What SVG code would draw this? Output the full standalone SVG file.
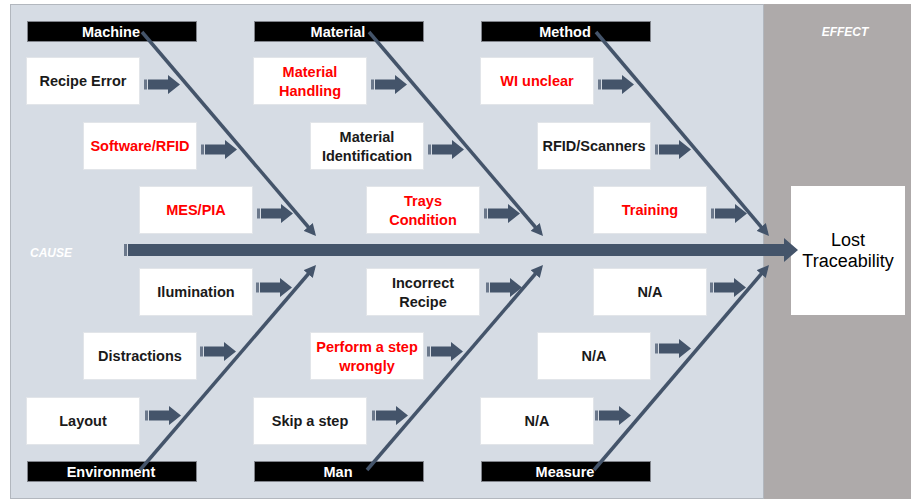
<svg xmlns="http://www.w3.org/2000/svg" xmlns:xlink="http://www.w3.org/1999/xlink" width="911" height="499" viewBox="0 0 911 499">
  <style>
    .cause-bg { fill: #d6dce4; stroke: #b2b7be; stroke-width: 1; }
    .effect-bg { fill: #aeaaaa; }
    .box { fill: #ffffff; stroke: #e2e5e9; stroke-width: 1; }
    .cat { fill: #000000; stroke: #80838a; stroke-width: 1; }
    .cat-text { font-family: "Liberation Sans", Arial, sans-serif; font-weight: bold; font-size: 14.5px; fill: #ffffff; text-anchor: middle; }
    .t { font-family: "Liberation Sans", Arial, sans-serif; font-weight: bold; font-size: 14.5px; text-anchor: middle; fill: #1a1a1a; }
    .red { fill: #ff0000; }
    .zone { font-family: "Liberation Sans", Arial, sans-serif; font-weight: bold; font-style: italic; font-size: 12px; fill: #ffffff; }
    .effect-text { font-family: "Liberation Sans", Arial, sans-serif; font-size: 18px; text-anchor: middle; fill: #000000; }
    .bone { stroke: #44546a; stroke-width: 3.5; fill: none; marker-end: url(#head); }
    .slate { fill: #44546a; }
    .stripe { fill: #6b788b; }
  </style>
  <defs>
    <marker id="head" viewBox="0 0 12 12" markerUnits="userSpaceOnUse" markerWidth="12" markerHeight="12" refX="8" refY="6" orient="auto">
      <path d="M0,0 L12,6 L0,12 Z" fill="#44546a"/>
    </marker>
    <!-- small striped block arrow, origin at left end / vertical centre -->
    <g id="blk">
      <rect class="stripe" x="0" y="-5" width="3" height="10"/>
      <path class="slate" d="M4,-5 H24 V-9.5 L36,0 L24,9.5 V5 H4 Z"/>
    </g>
  </defs>

  <!-- background panels -->
  <rect class="cause-bg" x="10.5" y="4.5" width="753" height="494"/>
  <rect class="effect-bg" x="764" y="4" width="147" height="495"/>
  <text class="zone" x="30" y="257">CAUSE</text>
  <text class="zone" x="845" y="36" text-anchor="middle" font-size="11.5">EFFECT</text>

  <!-- category headers -->
  <g id="cat-machine"><rect class="cat" x="27.5" y="21.5" width="169" height="20"/><text class="cat-text" x="111" y="36.5">Machine</text></g>
  <g id="cat-material"><rect class="cat" x="254.5" y="21.5" width="169" height="20"/><text class="cat-text" x="338" y="36.5">Material</text></g>
  <g id="cat-method"><rect class="cat" x="481.5" y="21.5" width="169" height="20"/><text class="cat-text" x="565" y="36.5">Method</text></g>
  <g id="cat-environment"><rect class="cat" x="27.5" y="461.5" width="169" height="20"/><text class="cat-text" x="111" y="476.5">Environment</text></g>
  <g id="cat-man"><rect class="cat" x="254.5" y="461.5" width="169" height="20"/><text class="cat-text" x="338" y="476.5">Man</text></g>
  <g id="cat-measure"><rect class="cat" x="481.5" y="461.5" width="169" height="20"/><text class="cat-text" x="565" y="476.5">Measure</text></g>

  <!-- cause boxes -->
  <g id="recipe-error"><rect class="box" x="26.5" y="57.5" width="113" height="47"/><text class="t" x="83" y="86">Recipe Error</text></g>
  <g id="software-rfid"><rect class="box" x="83.5" y="122.5" width="113" height="47"/><text class="t red" x="140" y="151">Software/RFID</text></g>
  <g id="mes-pia"><rect class="box" x="139.5" y="186.5" width="113" height="47"/><text class="t red" x="196" y="215">MES/PIA</text></g>

  <g id="material-handling"><rect class="box" x="253.5" y="57.5" width="113" height="47"/><text class="t red" x="310" y="77">Material</text><text class="t red" x="310" y="96">Handling</text></g>
  <g id="material-identification"><rect class="box" x="310.5" y="122.5" width="113" height="47"/><text class="t" x="367" y="142">Material</text><text class="t" x="367" y="161">Identification</text></g>
  <g id="trays-condition"><rect class="box" x="366.5" y="186.5" width="113" height="47"/><text class="t red" x="423" y="206">Trays</text><text class="t red" x="423" y="225">Condition</text></g>

  <g id="wi-unclear"><rect class="box" x="480.5" y="57.5" width="113" height="47"/><text class="t red" x="537" y="86">WI unclear</text></g>
  <g id="rfid-scanners"><rect class="box" x="537.5" y="122.5" width="113" height="47"/><text class="t" x="594" y="151">RFID/Scanners</text></g>
  <g id="training"><rect class="box" x="593.5" y="186.5" width="113" height="47"/><text class="t red" x="650" y="215">Training</text></g>

  <g id="ilumination"><rect class="box" x="139.5" y="268.5" width="113" height="47"/><text class="t" x="196" y="297">Ilumination</text></g>
  <g id="distractions"><rect class="box" x="83.5" y="332.5" width="113" height="47"/><text class="t" x="140" y="361">Distractions</text></g>
  <g id="layout"><rect class="box" x="26.5" y="397.5" width="113" height="47"/><text class="t" x="83" y="426">Layout</text></g>

  <g id="incorrect-recipe"><rect class="box" x="366.5" y="268.5" width="113" height="47"/><text class="t" x="423" y="288">Incorrect</text><text class="t" x="423" y="307">Recipe</text></g>
  <g id="perform-step-wrongly"><rect class="box" x="310.5" y="332.5" width="113" height="47"/><text class="t red" x="367" y="352">Perform a step</text><text class="t red" x="367" y="371">wrongly</text></g>
  <g id="skip-step"><rect class="box" x="253.5" y="397.5" width="113" height="47"/><text class="t" x="310" y="426">Skip a step</text></g>

  <g id="na-1"><rect class="box" x="593.5" y="268.5" width="113" height="47"/><text class="t" x="650" y="297">N/A</text></g>
  <g id="na-2"><rect class="box" x="537.5" y="332.5" width="113" height="47"/><text class="t" x="594" y="361">N/A</text></g>
  <g id="na-3"><rect class="box" x="480.5" y="397.5" width="113" height="47"/><text class="t" x="537" y="426">N/A</text></g>

  <!-- effect -->
  <g id="lost-traceability">
    <rect x="791" y="186" width="114" height="129" fill="#ffffff"/>
    <text class="effect-text" x="848" y="246">Lost</text>
    <text class="effect-text" x="848" y="267">Traceability</text>
  </g>

  <!-- connectors -->
  <g id="connectors">
    <!-- block arrows from each cause box -->
    <use xlink:href="#blk" x="144" y="84.5"/>
    <use xlink:href="#blk" x="201" y="149.5"/>
    <use xlink:href="#blk" x="257" y="213.5"/>
    <use xlink:href="#blk" x="371" y="84.5"/>
    <use xlink:href="#blk" x="428" y="149.5"/>
    <use xlink:href="#blk" x="484" y="213.5"/>
    <use xlink:href="#blk" x="598" y="84.5"/>
    <use xlink:href="#blk" x="655" y="149.5"/>
    <use xlink:href="#blk" x="711" y="213.5"/>
    <use xlink:href="#blk" x="256" y="287.5"/>
    <use xlink:href="#blk" x="200" y="351.5"/>
    <use xlink:href="#blk" x="145" y="415.5"/>
    <use xlink:href="#blk" x="486" y="287.5"/>
    <use xlink:href="#blk" x="427" y="351.5"/>
    <use xlink:href="#blk" x="372" y="415.5"/>
    <use xlink:href="#blk" x="710" y="287.5"/>
    <use xlink:href="#blk" x="655" y="348.5"/>
    <use xlink:href="#blk" x="595" y="415.5"/>

    <!-- category bones -->
    <line class="bone" x1="142" y1="32" x2="313.4" y2="233"/>
    <line class="bone" x1="369" y1="32" x2="540.4" y2="233"/>
    <line class="bone" x1="596" y1="32" x2="766.4" y2="233"/>
    <line class="bone" x1="140" y1="470" x2="313.4" y2="268"/>
    <line class="bone" x1="367" y1="470" x2="540.4" y2="268"/>
    <line class="bone" x1="594" y1="470" x2="766.4" y2="268"/>

    <!-- spine -->
    <rect class="stripe" x="124" y="244" width="3" height="12"/>
    <path class="slate" d="M128,244 H784 V238 L798,250 L784,262 V256 H128 Z"/>
  </g>
</svg>
